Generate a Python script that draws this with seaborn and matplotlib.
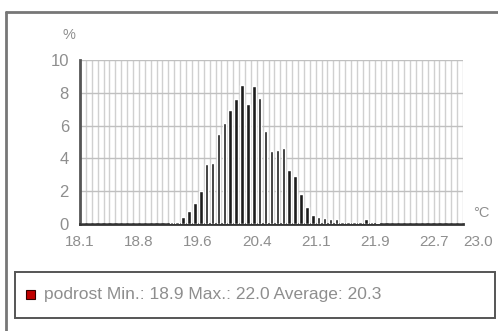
import numpy as np
import pandas as pd
import matplotlib
matplotlib.use("Agg")
import matplotlib.pyplot as plt
from matplotlib.patches import Rectangle
from matplotlib.lines import Line2D
import seaborn as sns

# temperature range of the histogram (65 bins)
T_MIN, T_MAX = 18.1, 23.0
share = [
    0, 0, 0, 0, 0, 0, 0, 0, 0, 0, 0, 0, 0, 0, 0,
    0.1, 0.15, 0.45, 0.8, 1.3, 2.0, 3.65, 3.72, 5.5, 6.15,
    6.95, 7.6, 8.5, 7.3, 8.4, 7.7, 5.7, 4.45, 4.5, 4.62,
    3.3, 2.9, 1.85, 1.05, 0.55, 0.4, 0.38, 0.33, 0.28, 0.15,
    0.12, 0.12, 0.15, 0.28, 0.15, 0.05,
    0, 0, 0, 0, 0, 0, 0, 0, 0, 0, 0, 0, 0, 0,
]
tick_labels = ["18.1", "18.8", "19.6", "20.4", "21.1", "21.9", "22.7", "23.0"]
y_ticks = [0, 2, 4, 6, 8, 10]
legend_text = "podrost Min.: 18.9 Max.: 22.0 Average: 20.3"

n_bins = len(share)
edges = np.linspace(T_MIN, T_MAX, n_bins + 1)
centers = np.round((edges[:-1] + edges[1:]) / 2, 4)
df = pd.DataFrame({"bin": centers, "share": share})

sns.set_style("white")
plt.rcParams["font.family"] = ["Liberation Sans", "DejaVu Sans"]

W, H = 498, 331
fig = plt.figure(figsize=(W / 100, H / 100), dpi=100)

def px(x, y):
    return x / W, 1 - y / H

ax = fig.add_axes([80 / W, 1 - 224 / H, (463 - 80) / W, (224 - 60) / H])

# grid first, bars on top
for k in range(n_bins + 1):
    ax.axvline(k - 0.5, color="#d0d0d0", lw=1.0, zorder=0)
for v in y_ticks[1:]:
    ax.axhline(v, color="#c0c0c0", lw=1.0, zorder=0)

sns.barplot(data=df, x="bin", y="share", order=centers, color="#1c1c1c",
            width=0.6, saturation=1, ax=ax, zorder=3)

ax.set_xlim(-0.5, n_bins - 0.5)
ax.set_ylim(0, 10)
ax.set_xlabel("")
ax.set_ylabel("")

major_pos = [-0.5 + 10 * i for i in range(7)] + [n_bins - 0.5]
ax.set_xticks(major_pos)
ax.set_xticklabels(tick_labels)
labs = ax.get_xticklabels()
labs[-1].set_horizontalalignment("left")
ax.set_xticks(np.arange(n_bins), minor=True)
ax.tick_params(axis="x", which="major", length=5, width=1.2, color="#444",
               labelsize=11, labelcolor="#8e8e8e", pad=3)
ax.tick_params(axis="x", which="minor", length=3, width=1, color="#555")

ax.set_yticks(y_ticks)
ax.tick_params(axis="y", length=5, width=1.5, color="#444",
               labelsize=12, labelcolor="#8e8e8e", pad=3)

for side in ["top", "right"]:
    ax.spines[side].set_visible(False)
ax.spines["left"].set_color("#555")
ax.spines["left"].set_linewidth(2)
ax.spines["bottom"].set_color("#333")
ax.spines["bottom"].set_linewidth(2)

fig.text(*px(69, 35), "%", ha="center", va="center", fontsize=10.5, color="#8e8e8e")
fig.text(*px(481, 213), "°C", ha="center", va="center", fontsize=10.5, color="#8e8e8e")

# outer frame
fig.add_artist(Line2D([6 / W, 6 / W], [0, 1 - 12 / H], color="#777", lw=2))
fig.add_artist(Line2D([6 / W, 1], [1 - 12 / H, 1 - 12 / H], color="#777", lw=2))

# legend box
x0, y0 = px(15, 318)
fig.add_artist(Rectangle((x0, y0), (495 - 15) / W, (318 - 272) / H,
                         transform=fig.transFigure, fill=False,
                         edgecolor="#555", lw=1.4))
sx, sy = px(26, 299)
fig.add_artist(Rectangle((sx, sy), 9 / W, 9 / H, transform=fig.transFigure,
                         facecolor="#c00000", edgecolor="#300", lw=0.8))
fig.text(*px(44, 294), legend_text, ha="left", va="center",
         fontsize=12.5, color="#8e8e8e")

fig.savefig("out.png", dpi=100)
